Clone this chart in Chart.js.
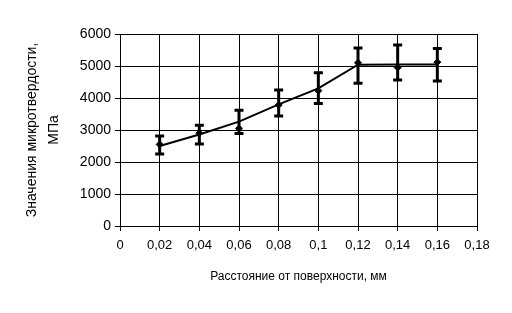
<!DOCTYPE html>
<html>
<head>
<meta charset="utf-8">
<script src="https://cdn.jsdelivr.net/npm/chart.js@4"></script>
<style>
  body { margin: 0; background: #fff; }
</style>
</head>
<body>
<canvas id="chart" width="512" height="313"></canvas>
<script>
// расстояние от поверхности, мм
const distance = [0.02, 0.04, 0.06, 0.08, 0.1, 0.12, 0.14, 0.16];
// измеренная микротвердость, МПа
const hardness = [2550, 2900, 3050, 3780, 4230, 5100, 4950, 5120];
const hardMax = [2810, 3150, 3620, 4250, 4790, 5560, 5660, 5550];
const hardMin = [2250, 2560, 2890, 3440, 3830, 4460, 4560, 4530];
// линия тренда
const trend = [2500, 2860, 3260, 3800, 4300, 5040, 5050, 5050];

const fmt = v => Number(v.toFixed(2)).toString().replace(".", ",");

// усы погрешностей
const errorBars = {
  id: "errorBars",
  afterDatasetsDraw(chart) {
    const ctx = chart.ctx;
    const xs = chart.scales.x, ys = chart.scales.y;
    ctx.save();
    ctx.strokeStyle = "#000";
    ctx.lineWidth = 3;
    for (let i = 0; i < distance.length; i++) {
      const px = xs.getPixelForValue(distance[i]);
      const top = ys.getPixelForValue(hardMax[i]);
      const bot = ys.getPixelForValue(hardMin[i]);
      ctx.beginPath();
      ctx.moveTo(px, top); ctx.lineTo(px, bot);
      ctx.moveTo(px - 4.5, top); ctx.lineTo(px + 4.5, top);
      ctx.moveTo(px - 4.5, bot); ctx.lineTo(px + 4.5, bot);
      ctx.stroke();
    }
    ctx.restore();
  }
};

const canvas = document.getElementById("chart").getContext("2d");

const chart = new Chart(canvas, {
  type: "line",
  data: {
    datasets: [
      {
        data: distance.map((d, i) => ({ x: d, y: trend[i] })),
        borderColor: "#000",
        borderWidth: 2,
        pointRadius: 0,
        tension: 0
      },
      {
        data: distance.map((d, i) => ({ x: d, y: hardness[i] })),
        showLine: false,
        pointRadius: 3.5,
        pointStyle: "rectRot",
        backgroundColor: "#000",
        borderColor: "#000"
      }
    ]
  },
  options: {
    responsive: false,
    animation: false,
    plugins: { legend: { display: false }, tooltip: { enabled: false } },
    layout: { padding: { left: 21, top: 34, right: 35, bottom: 25 } },
    scales: {
      x: {
        type: "linear",
        min: 0,
        max: 0.18,
        ticks: {
          stepSize: 0.02,
          color: "#000",
          font: { family: "Liberation Sans", size: 13 },
          padding: 7,
          maxRotation: 0,
          callback: v => fmt(v)
        },
        grid: { color: "#000", lineWidth: 1, tickLength: 5 },
        border: { color: "#000" },
        title: {
          display: true,
          text: "Расстояние от поверхности, мм",
          color: "#000",
          font: { family: "Liberation Sans", size: 12 },
          padding: { top: 6 }
        },
        afterFit: s => { s.height = 62; }
      },
      y: {
        min: 0,
        max: 6000,
        ticks: {
          stepSize: 1000,
          color: "#000",
          font: { family: "Liberation Sans", size: 14 },
          padding: 4,
          callback: v => String(v)
        },
        grid: { color: "#000", lineWidth: 1, tickLength: 5 },
        border: { color: "#000" },
        title: {
          display: true,
          text: ["Значения микротвердости,", "МПа"],
          color: "#000",
          font: { family: "Liberation Sans", size: 14, lineHeight: 1.6 },
          padding: { top: 0, bottom: 0 }
        },
        afterFit: s => { s.width = 99; }
      }
    }
  },
  plugins: [errorBars]
});
</script>
</body>
</html>
